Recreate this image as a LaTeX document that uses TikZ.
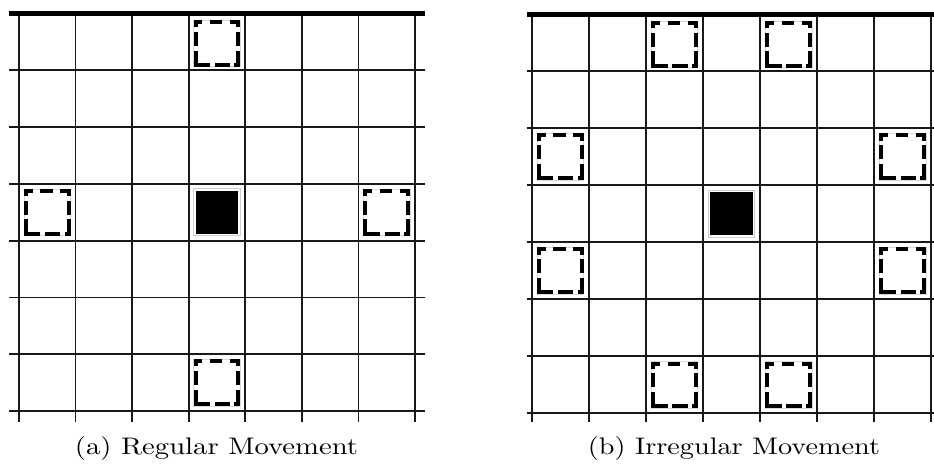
\documentclass[tikz,border=0pt]{standalone}
\usepackage{graphicx}
\usetikzlibrary{calc}
\begin{document}
\begin{tikzpicture}[x=1pt,y=-1pt,
  gridline/.style={line width=1.8pt,black!90},
  topline/.style={line width=5pt,black},
  piece/.style={line width=4pt,black,line cap=butt,line join=miter},
  agent/.style={draw=gray!40,line width=0.7pt,fill=black,minimum width=46.5pt,minimum height=47pt,inner sep=0pt,outer sep=0pt,
    path picture={\fill[white] (path picture bounding box.south west) rectangle (path picture bounding box.north east);
                  \fill[black] ([shift={(1.8pt,1.8pt)}]path picture bounding box.south west) rectangle ([shift={(-1.8pt,-1.8pt)}]path picture bounding box.north east);}},
  caption/.style={anchor=base,inner sep=0pt},
  target/.pic={
    \draw[gray!30,line width=0.5pt] (-23.3,-23.3) rectangle (23.3,23.3);
    \draw[piece] (-21.3,-16.2) -- (-21.3,-21.3) -- (-14.5,-21.3);
    \draw[piece] (-6.8,-21.3) -- (5.5,-21.3);
    \draw[piece] (13.2,-21.3) -- (21.3,-21.3) -- (21.3,-16.2);
    \draw[piece] (21.3,-11.5) -- (21.3,2.6);
    \draw[piece] (21.3,7.2) -- (21.3,21.3) -- (17.5,21.3);
    \draw[piece] (-2.1,21.3) -- (13.2,21.3);
    \draw[piece] (-6.8,21.3) -- (-21.3,21.3) -- (-21.3,7.2);
    \draw[piece] (-21.3,-11.5) -- (-21.3,2.6);
  }]
\useasboundingbox (0,0) rectangle (934,470);
\fill[white] (0,0) rectangle (934,470);

% ---------- Grid (a) ----------
\def\ax{19}\def\adx{56.57}\def\ay{13.5}\def\ady{56.79}
\foreach \i in {1,...,7}{
  \draw[gridline] (9,{\ay+\i*\ady}) -- (425,{\ay+\i*\ady});
}
\foreach \j in {0,...,7}{
  \draw[gridline] ({\ax+\j*\adx},\ay) -- ({\ax+\j*\adx},421.7);
}
\draw[topline] (9,\ay) -- (425,\ay);
\node[agent] (aagent) at ({\ax+3.5*\adx},{\ay+3.5*\ady}) {};
\pic at ({\ax+3.5*\adx},{\ay+0.5*\ady+1.5}) {target};
\pic at ({\ax+0.5*\adx},{\ay+3.5*\ady}) {target};
\pic at ({\ax+6.5*\adx},{\ay+3.5*\ady}) {target};
\pic at ({\ax+3.5*\adx},{\ay+6.5*\ady}) {target};
\node[caption] (capa) at (216.5,454) {\resizebox*{283pt}{24pt}{(a) Regular Movement}};

% ---------- Grid (b) ----------
\def\bx{531.7}\def\bdx{57.07}\def\by{14.3}\def\bdy{57}
\foreach \i in {1,...,7}{
  \draw[gridline] (526.7,{\by+\i*\bdy}) -- (934,{\by+\i*\bdy});
}
\foreach \j in {0,...,7}{
  \draw[gridline] ({\bx+\j*\bdx},\by) -- ({\bx+\j*\bdx},422);
}
\draw[topline] (526.7,\by) -- (934,\by);
\node[agent] (bagent) at ({\bx+3.5*\bdx},{\by+3.5*\bdy}) {};
\pic at ({\bx+2.5*\bdx},{\by+0.5*\bdy+1.5}) {target};
\pic at ({\bx+4.5*\bdx},{\by+0.5*\bdy+1.5}) {target};
\pic at ({\bx+0.5*\bdx},{\by+2.5*\bdy}) {target};
\pic at ({\bx+6.5*\bdx},{\by+2.5*\bdy}) {target};
\pic at ({\bx+0.5*\bdx},{\by+4.5*\bdy}) {target};
\pic at ({\bx+6.5*\bdx},{\by+4.5*\bdy}) {target};
\pic at ({\bx+2.5*\bdx},{\by+6.5*\bdy}) {target};
\pic at ({\bx+4.5*\bdx},{\by+6.5*\bdy}) {target};
\node[caption] (capb) at (734,454) {\resizebox*{292pt}{24pt}{(b) Irregular Movement}};
\end{tikzpicture}
\end{document}
